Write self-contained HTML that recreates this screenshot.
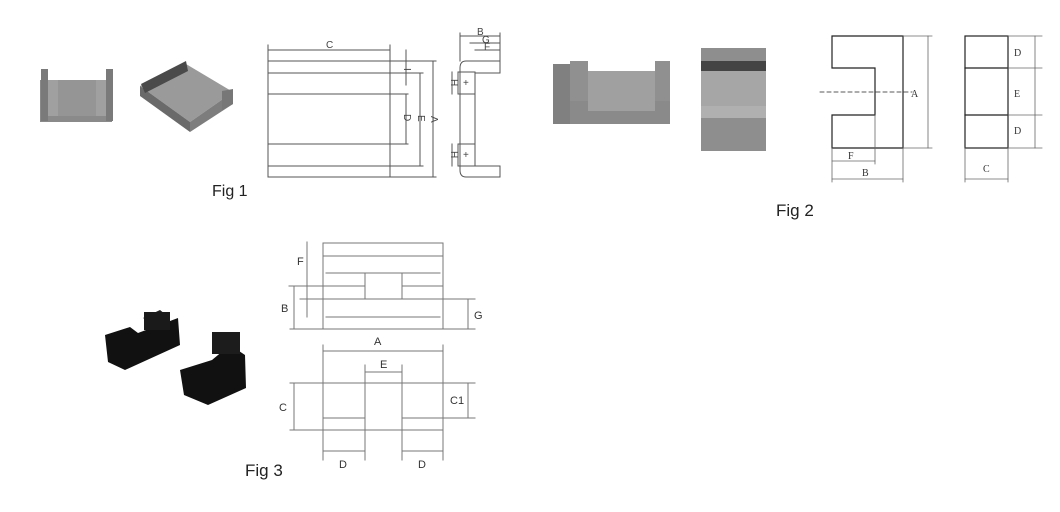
<!DOCTYPE html>
<html><head><style>
body{margin:0;background:#fff;width:1060px;height:512px;overflow:hidden}
svg{display:block}
text{font-family:"Liberation Sans",sans-serif}
.s{font-family:"Liberation Serif",serif;font-size:10px}
</style></head><body>
<svg width="1060" height="512" viewBox="0 0 1060 512" stroke-linecap="square">
<!-- Fig1 photos -->
<rect x="40" y="80" width="72" height="42" fill="#8a8a8a"/>
<rect x="41" y="69" width="7" height="52" fill="#7a7a7a"/>
<rect x="106" y="69" width="7" height="52" fill="#7a7a7a"/>
<rect x="48" y="80" width="58" height="36" fill="#a0a0a0"/>
<rect x="58" y="80" width="38" height="36" fill="#959595"/>
<polygon points="140,86 186,64 233,92 190,122" fill="#9a9a9a"/>
<polygon points="140,86 140,96 190,132 190,122" fill="#6a6a6a"/>
<polygon points="190,122 190,132 233,104 233,92" fill="#7d7d7d"/>
<polygon points="141,84 186,61 188,71 145,93" fill="#4a4a4a"/>
<polygon points="222,91 233,89 233,104 222,110" fill="#777"/>
<!-- Fig1 drawing -->
<g stroke="#555" stroke-width="1" fill="none">
<rect x="268" y="61" width="122" height="116"/>
<line x1="268" y1="73" x2="423" y2="73"/><line x1="268" y1="94" x2="408" y2="94"/>
<line x1="268" y1="144" x2="408" y2="144"/><line x1="268" y1="166" x2="423" y2="166"/>
<line x1="390" y1="61" x2="436" y2="61"/><line x1="390" y1="177" x2="436" y2="177"/>
<line x1="268" y1="50" x2="390" y2="50"/><line x1="268" y1="45" x2="268" y2="61"/><line x1="390" y1="45" x2="390" y2="61"/>
<line x1="406" y1="50" x2="406" y2="85"/><line x1="406" y1="94" x2="406" y2="144"/>
<line x1="420" y1="73" x2="420" y2="166"/><line x1="433" y1="61" x2="433" y2="177"/>
<path d="M500 61 H466 Q460 61 460 68 V170 Q460 177 466 177 H500 V166 H475 V73 H500 Z"/>
<rect x="458" y="72" width="17" height="22"/><rect x="458" y="144" width="17" height="22"/>
<line x1="460" y1="36" x2="500" y2="36"/><line x1="470" y1="43" x2="500" y2="43"/><line x1="475" y1="50" x2="500" y2="50"/>
<line x1="460" y1="33" x2="460" y2="61"/><line x1="500" y1="33" x2="500" y2="61"/>
<line x1="452" y1="72" x2="452" y2="94"/><line x1="452" y1="144" x2="452" y2="166"/>
</g>
<g class="s" fill="#444">
<text x="326" y="48">C</text><text x="400" y="72" transform="rotate(90 404 72)">I</text>
<text x="398" y="120" transform="rotate(90 404 120)">D</text><text x="413" y="120" transform="rotate(90 418 120)">E</text>
<text x="427" y="120" transform="rotate(90 431 120)">A</text>
<text x="477" y="35">B</text><text x="482" y="43">G</text><text x="484" y="50">F</text>
<text x="447" y="83" transform="rotate(90 451 83)">H</text><text x="447" y="155" transform="rotate(90 451 155)">H</text>
<text x="463" y="86">+</text><text x="463" y="158">+</text>
</g>
<text x="212" y="196" font-size="16" fill="#222">Fig 1</text>
<!-- Fig2 photos -->
<rect x="553" y="64" width="17" height="60" fill="#808080"/>
<rect x="570" y="72" width="100" height="52" fill="#8a8a8a"/>
<rect x="570" y="61" width="18" height="40" fill="#909090"/>
<rect x="655" y="61" width="15" height="40" fill="#909090"/>
<rect x="588" y="71" width="67" height="40" fill="#a0a0a0"/>
<rect x="701" y="48" width="65" height="103" fill="#8e8e8e"/>
<rect x="701" y="61" width="65" height="10" fill="#444"/>
<rect x="701" y="71" width="65" height="35" fill="#a6a6a6"/>
<rect x="701" y="106" width="65" height="12" fill="#b0b0b0"/>
<!-- Fig2 drawing -->
<g stroke="#222" stroke-width="1.2" fill="none">
<path d="M832 36 H903 V148 H832 V115 H875 V68 H832 Z"/>
<rect x="965" y="36" width="43" height="112"/><line x1="965" y1="68" x2="1008" y2="68"/><line x1="965" y1="115" x2="1008" y2="115"/>
</g>
<g stroke="#666" stroke-width="0.8" fill="none">
<line x1="903" y1="36" x2="932" y2="36"/><line x1="903" y1="148" x2="932" y2="148"/><line x1="928" y1="36" x2="928" y2="148"/>
<line x1="820" y1="92" x2="912" y2="92" stroke-dasharray="4,3" stroke="#222"/>
<line x1="832" y1="148" x2="832" y2="182"/><line x1="903" y1="148" x2="903" y2="182"/><line x1="875" y1="115" x2="875" y2="164"/>
<line x1="832" y1="161" x2="875" y2="161"/><line x1="832" y1="179" x2="903" y2="179"/>
<line x1="1008" y1="36" x2="1042" y2="36"/><line x1="1008" y1="68" x2="1042" y2="68"/><line x1="1008" y1="115" x2="1042" y2="115"/><line x1="1008" y1="148" x2="1042" y2="148"/>
<line x1="1035" y1="36" x2="1035" y2="148"/>
<line x1="965" y1="148" x2="965" y2="182"/><line x1="1008" y1="148" x2="1008" y2="182"/><line x1="965" y1="179" x2="1008" y2="179"/>
</g>
<g class="s" fill="#333" font-size="11"><text x="911" y="97" class="s">A</text><text x="848" y="159" class="s">F</text><text x="862" y="176" class="s">B</text>
<text x="1014" y="56" class="s">D</text><text x="1014" y="97" class="s">E</text><text x="1014" y="134" class="s">D</text><text x="983" y="172" class="s">C</text></g>
<text x="776" y="216" font-size="17" fill="#222">Fig 2</text>
<!-- Fig3 photos -->
<polygon points="105,335 130,327 138,333 178,318 180,345 125,370 108,362" fill="#111"/>
<polygon points="143,318 160,310 170,318 155,325" fill="#222"/>
<rect x="144" y="312" width="26" height="18" fill="#1a1a1a"/>
<polygon points="180,370 212,360 230,345 245,355 246,388 208,405 184,395" fill="#111"/>
<rect x="212" y="332" width="28" height="22" fill="#1c1c1c"/>
<!-- Fig3 drawing -->
<g stroke="#777" stroke-width="1" fill="none">
<rect x="323" y="243" width="120" height="86"/>
<line x1="323" y1="256" x2="443" y2="256"/><line x1="326" y1="273" x2="440" y2="273"/>
<line x1="289" y1="286" x2="365" y2="286"/><line x1="402" y1="286" x2="443" y2="286"/>
<line x1="300" y1="299" x2="475" y2="299"/><line x1="326" y1="317" x2="440" y2="317"/>
<line x1="290" y1="329" x2="475" y2="329"/>
<line x1="365" y1="273" x2="365" y2="299"/><line x1="402" y1="273" x2="402" y2="299"/>
<line x1="307" y1="242" x2="307" y2="317"/><line x1="294" y1="286" x2="294" y2="329"/><line x1="468" y1="299" x2="468" y2="329"/>
<line x1="323" y1="345" x2="323" y2="460"/><line x1="443" y1="345" x2="443" y2="460"/>
<line x1="365" y1="365" x2="365" y2="460"/><line x1="402" y1="365" x2="402" y2="460"/>
<line x1="323" y1="351" x2="443" y2="351"/><line x1="365" y1="372" x2="402" y2="372"/>
<line x1="290" y1="383" x2="475" y2="383"/><line x1="290" y1="430" x2="443" y2="430"/>
<line x1="323" y1="418" x2="365" y2="418"/><line x1="402" y1="418" x2="475" y2="418"/>
<line x1="294" y1="383" x2="294" y2="430"/><line x1="468" y1="383" x2="468" y2="418"/>
<line x1="323" y1="451" x2="365" y2="451"/><line x1="402" y1="451" x2="443" y2="451"/>
</g>
<g font-size="11" fill="#333"><text x="297" y="265">F</text><text x="281" y="312">B</text><text x="474" y="319">G</text>
<text x="374" y="345">A</text><text x="380" y="368">E</text><text x="279" y="411">C</text><text x="450" y="404">C1</text>
<text x="339" y="468">D</text><text x="418" y="468">D</text></g>
<text x="245" y="476" font-size="17" fill="#222">Fig 3</text>
</svg>
</body></html>
